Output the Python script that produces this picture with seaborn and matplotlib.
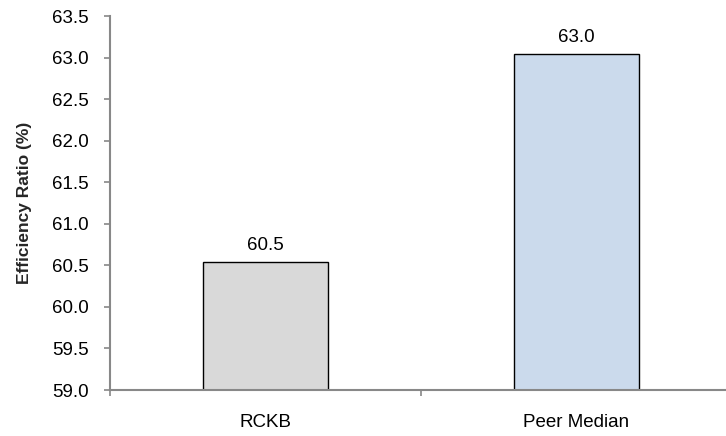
import matplotlib
matplotlib.use("Agg")
import matplotlib.pyplot as plt
import seaborn as sns
import pandas as pd

categories = ["RCKB", "Peer Median"]
efficiency = [60.54, 63.04]
value_labels = ["60.5", "63.0"]
bar_colors = ["#D9D9D9", "#C6D9F1"]

sns.set_style("ticks")
plt.rcParams["font.family"] = ["Liberation Sans", "DejaVu Sans"]
plt.rcParams["text.color"] = "black"
plt.rcParams["xtick.color"] = "#888888"
plt.rcParams["ytick.color"] = "#888888"
plt.rcParams["xtick.labelcolor"] = "black"
plt.rcParams["ytick.labelcolor"] = "black"

df = pd.DataFrame({"category": categories, "ratio": efficiency})

fig = plt.figure(figsize=(7.26, 4.36), dpi=100)
# axes runs past the right edge of the figure, as in the reference
ax = fig.add_axes([110 / 726, 46 / 436, 622 / 726, 374 / 436])

sns.barplot(data=df, x="category", y="ratio", hue="category",
            palette=bar_colors, width=0.4, edgecolor="black", linewidth=1,
            legend=False, ax=ax)

ax.set_ylim(59.0, 63.5)
ax.set_xlim(-0.5, 1.5)
yticks = [59.0 + 0.5 * i for i in range(10)]
ax.set_yticks(yticks)
ax.set_yticklabels([f"{t:.1f}" for t in yticks], fontsize=13.5)
ax.set_xticks(range(len(categories)))
ax.set_xticklabels(categories, fontsize=13.5)
ax.set_xticks([-0.5, 0.5, 1.5], minor=True)
ax.tick_params(axis="x", which="major", length=0, pad=17.5)
ax.tick_params(axis="x", which="minor", length=4.5, width=1.2, direction="out")
ax.tick_params(axis="y", length=4.5, width=1.2, direction="out", pad=11)
ax.set_xlabel("")
ax.set_ylabel("Efficiency Ratio (%)", fontsize=12.5, fontweight="bold")
ax.yaxis.set_label_coords(-(110 - 32) / 622, 0.5)

for side in ["top", "right"]:
    ax.spines[side].set_visible(False)
for side in ["left", "bottom"]:
    ax.spines[side].set_color("#888888")
    ax.spines[side].set_linewidth(1.5)

for container in ax.containers:
    for bar in container:
        cx = bar.get_x() + bar.get_width() / 2
        idx = int(round(cx))
        ax.annotate(value_labels[idx], (cx, bar.get_height()),
                    xytext=(0, 6), textcoords="offset points", ha="center", va="bottom",
                    fontsize=13.5)

fig.savefig("out.png", dpi=100)
